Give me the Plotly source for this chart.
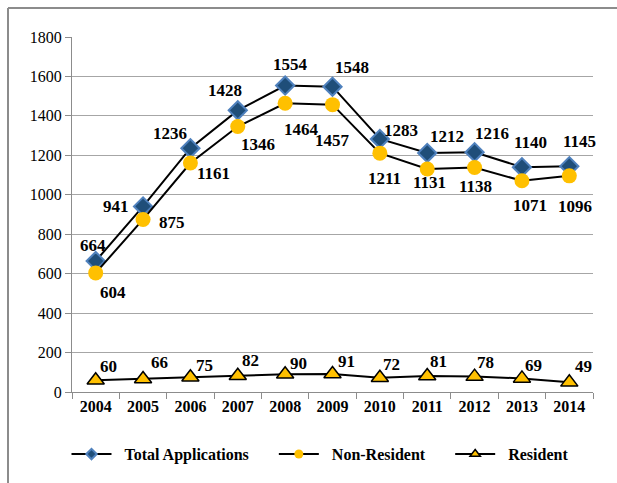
import plotly.graph_objects as go

years = ["2004", "2005", "2006", "2007", "2008", "2009", "2010", "2011", "2012", "2013", "2014"]
total_applications = [664, 941, 1236, 1428, 1554, 1548, 1283, 1212, 1216, 1140, 1145]
non_resident = [604, 875, 1161, 1346, 1464, 1457, 1211, 1131, 1138, 1071, 1096]
resident = [60, 66, 75, 82, 90, 91, 72, 81, 78, 69, 49]
y_ticks = [0, 200, 400, 600, 800, 1000, 1200, 1400, 1600, 1800]

# label offsets in pixels (dx right, dy down) - styling only
total_off = [(-3, -16), (-27, 0), (-20, -15), (-13, -20), (5, -21), (19, -19),
             (21, -8), (20, -16), (17, -19), (9, -25), (10, -25)]
nonres_off = [(17, 20), (29, 3), (23, 10), (20, 18), (16, 26), (0, 36),
              (5, 25), (2, 14), (1, 19), (8, 25), (6, 31)]
res_off = [(13, -14), (16, -16), (14, -12), (13, -15), (13, -11), (14, -13),
           (12, -13), (11, -15), (11, -14), (12, -13), (14, -16)]

FONT = "Liberation Serif, Times New Roman, DejaVu Serif, serif"
NB = "\u00a0"
fig = go.Figure()

styles = [
    ("Total Applications", total_applications,
     dict(symbol="diamond", color="#1F4E79", line=dict(color="#4F81BD", width=2)), 14, 8),
    ("Non-Resident", non_resident,
     dict(symbol="circle", color="#FFC000", line=dict(width=0)), 15, 9),
    ("Resident", resident,
     dict(symbol="triangle-up", color="#FFC000", line=dict(color="black", width=1.5)), 15, 9),
]

for name, vals, mk, size, lsize in styles:
    fig.add_trace(go.Scatter(
        x=years, y=vals, name=name, mode="lines+markers", showlegend=False,
        line=dict(color="black", width=2), marker=dict(size=size, **mk),
    ))
for k, (name, vals, mk, size, lsize) in enumerate(styles):
    trail = NB * 5 if k < 2 else ""
    fig.add_trace(go.Scatter(
        x=[None], y=[None], name=f"{NB*2}<b>{name}</b>{trail}", mode="lines+markers", showlegend=True,
        line=dict(color="black", width=2), marker=dict(size=lsize, **mk),
    ))

annotations = []
for vals, offs in ((total_applications, total_off), (non_resident, nonres_off), (resident, res_off)):
    for i, (v, (dx, dy)) in enumerate(zip(vals, offs)):
        annotations.append(dict(
            x=i, y=v, xref="x", yref="y", text=f"<b>{v}</b>", showarrow=False,
            xshift=dx, yshift=-dy, font=dict(family=FONT, size=17, color="black"),
        ))

fig.update_layout(
    width=617, height=483,
    margin=dict(l=72, r=24, t=37, b=91),
    paper_bgcolor="white", plot_bgcolor="white",
    font=dict(family=FONT, size=16, color="black"),
    showlegend=True,
    legend=dict(orientation="h", x=0.476, xanchor="center", y=-0.175, yanchor="middle",
                font=dict(family=FONT, size=16, color="black"), itemwidth=40),
    annotations=annotations,
    xaxis=dict(type="category", range=[-0.5, 10.5], showgrid=False,
               showline=True, linecolor="#8C8C8C", linewidth=1,
               ticks="outside", ticklen=6, tickcolor="#8C8C8C", tickson="boundaries",
               tickfont=dict(family=FONT, size=16, color="black"),
               tickprefix="<b>", ticksuffix="</b>"),
    yaxis=dict(range=[0, 1800], tickvals=y_ticks, showgrid=True, gridcolor="#A6A6A6", gridwidth=1,
               showline=True, linecolor="#8C8C8C", linewidth=1,
               ticks="outside", ticklen=6, tickcolor="#8C8C8C",
               tickfont=dict(family=FONT, size=16, color="black"),
               tickprefix="<b>", ticksuffix="</b>", zeroline=False),
    shapes=[
        dict(type="line", xref="paper", yref="paper", x0=(8 - 72) / 521, x1=1.2,
             y0=(392 - 8) / 355, y1=(392 - 8) / 355, line=dict(color="#8C8C8C", width=2)),
        dict(type="line", xref="paper", yref="paper", x0=(8 - 72) / 521, x1=(8 - 72) / 521,
             y0=(392 - 8) / 355, y1=-0.4, line=dict(color="#8C8C8C", width=2)),
    ],
)

fig.write_html("out.html", config={"displayModeBar": False},
               post_script="document.body.style.margin='0';")
